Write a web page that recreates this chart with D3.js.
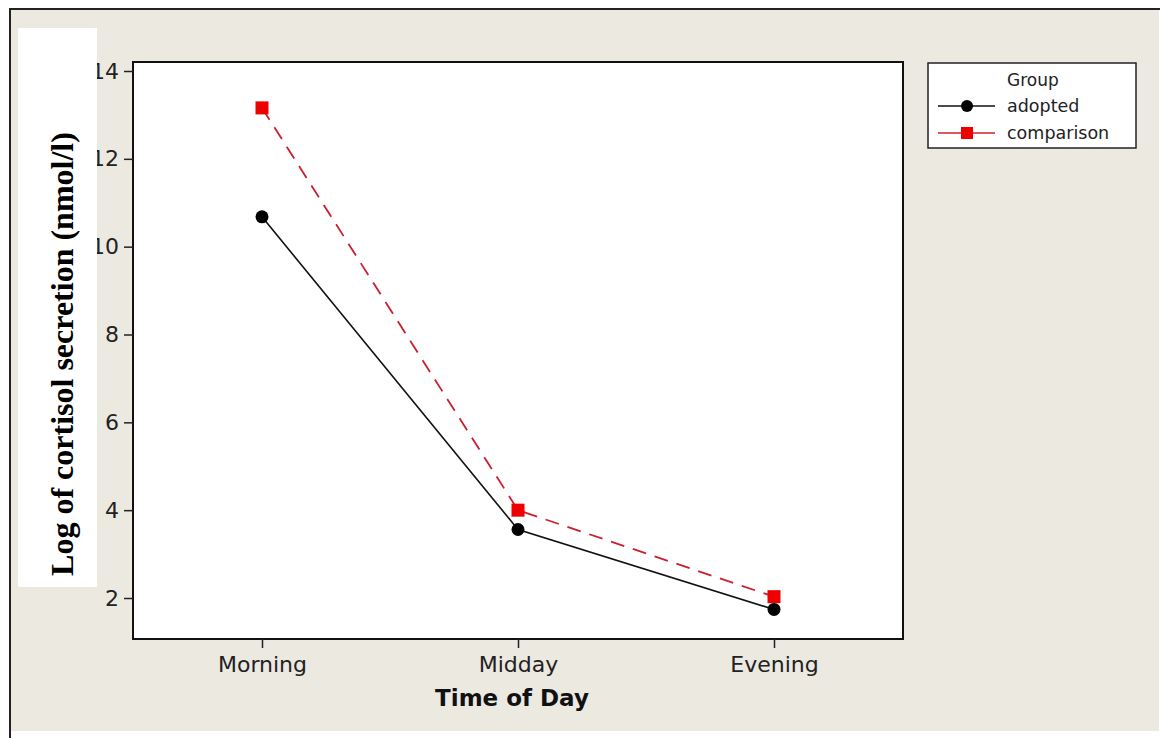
<!DOCTYPE html>
<html><head><meta charset="utf-8">
<script src="https://cdn.jsdelivr.net/npm/d3@7"></script>
<style>body{margin:0;background:#fff}svg{display:block}</style>
</head><body>
<script>
const categories = ["Morning", "Midday", "Evening"];
const adopted = [10.68, 3.56, 1.74];
const comparison = [13.16, 4.0, 2.03];
const yTicks = [2, 4, 6, 8, 10, 12, 14];
const seriesNames = ["adopted", "comparison"];
const legendTitle = "Group";
const xTitle = "Time of Day";
const yTitle = "Log of cortisol secretion (nmol/l)";

const W = 1160, H = 738;
const svg = d3.select("body").append("svg").attr("width", W).attr("height", H);

// background panel
svg.append("rect").attr("x", 9).attr("y", 8).attr("width", 1150).attr("height", 723).attr("fill", "#ECE9E1");
svg.append("line").attr("x1", 10).attr("y1", 8).attr("x2", 10).attr("y2", 738).attr("stroke", "#222").attr("stroke-width", 2);
svg.append("line").attr("x1", 9).attr("y1", 9).attr("x2", 1160).attr("y2", 9).attr("stroke", "#222").attr("stroke-width", 2);

const plot = {l: 133, t: 62, r: 903, b: 639};
const x = d3.scalePoint().domain(categories).range([262, 774]);
const y = d3.scaleLinear().domain([2, 14]).range([598, 71]);

svg.append("rect").attr("x", plot.l).attr("y", plot.t).attr("width", plot.r - plot.l).attr("height", plot.b - plot.t)
  .attr("fill", "#fff").attr("stroke", "#111").attr("stroke-width", 2);

const font = "'DejaVu Sans', sans-serif";
const yAxis = svg.append("g").attr("transform", `translate(${plot.l},0)`)
  .call(d3.axisLeft(y).tickValues(yTicks).tickSize(9).tickPadding(5).tickFormat(d3.format("d")));
yAxis.select(".domain").remove();
yAxis.selectAll("line").attr("stroke", "#222").attr("stroke-width", 1.5);
yAxis.selectAll("text").attr("font-family", font).attr("font-size", 22).attr("fill", "#222");

const xAxis = svg.append("g").attr("transform", `translate(0,${plot.b})`)
  .call(d3.axisBottom(x).tickSize(9).tickPadding(8));
xAxis.select(".domain").remove();
xAxis.selectAll("line").attr("stroke", "#222").attr("stroke-width", 1.5);
xAxis.selectAll("text").attr("font-family", font).attr("font-size", 22).attr("fill", "#222");

svg.append("text").attr("x", 512).attr("y", 706).attr("text-anchor", "middle")
  .attr("font-family", font).attr("font-weight", "bold").attr("font-size", 23).attr("fill", "#111").text(xTitle);

// white y-title box (drawn over tick labels)
svg.append("rect").attr("x", 18).attr("y", 28).attr("width", 79).attr("height", 559).attr("fill", "#fff");
svg.append("text").attr("transform", "translate(73,354) rotate(-90)").attr("text-anchor", "middle")
  .attr("font-family", "'Liberation Serif', 'Times New Roman', serif").attr("font-weight", "bold")
  .attr("font-size", 32).attr("fill", "#000").text(yTitle);

// lines
const line = d3.line().x((d, i) => x(categories[i])).y(d => y(d));
svg.append("path").datum(adopted).attr("d", line).attr("fill", "none").attr("stroke", "#111").attr("stroke-width", 1.6);
svg.append("path").datum(comparison).attr("d", line).attr("fill", "none").attr("stroke", "#c8202e").attr("stroke-width", 1.8).attr("stroke-dasharray", "14,9");

svg.selectAll(".pc").data(comparison).enter().append("rect")
  .attr("x", (d, i) => x(categories[i]) - 6.5).attr("y", d => y(d) - 6.5).attr("width", 13).attr("height", 13).attr("fill", "#ee0000");
svg.selectAll(".pa").data(adopted).enter().append("circle")
  .attr("cx", (d, i) => x(categories[i])).attr("cy", d => y(d)).attr("r", 6.5).attr("fill", "#000");

// legend
const lg = svg.append("g");
lg.append("rect").attr("x", 928).attr("y", 63).attr("width", 208).attr("height", 85).attr("fill", "#fff").attr("stroke", "#222").attr("stroke-width", 1.5);
lg.append("text").attr("x", 1007).attr("y", 86).attr("font-family", font).attr("font-size", 17).attr("fill", "#222").text(legendTitle);
const ly = [106, 133];
seriesNames.forEach((s, i) => {
  lg.append("line").attr("x1", 938).attr("x2", 995).attr("y1", ly[i]).attr("y2", ly[i])
    .attr("stroke", i === 0 ? "#111" : "#d0202a").attr("stroke-width", 1.5);
  if (i === 0) lg.append("circle").attr("cx", 967).attr("cy", ly[i]).attr("r", 6).attr("fill", "#000");
  else lg.append("rect").attr("x", 961).attr("y", ly[i] - 6).attr("width", 12).attr("height", 12).attr("fill", "#ee0000");
  lg.append("text").attr("x", 1007).attr("y", ly[i] + 6).attr("font-family", font).attr("font-size", 17.5).attr("fill", "#222").text(s);
});
</script>
</body></html>
